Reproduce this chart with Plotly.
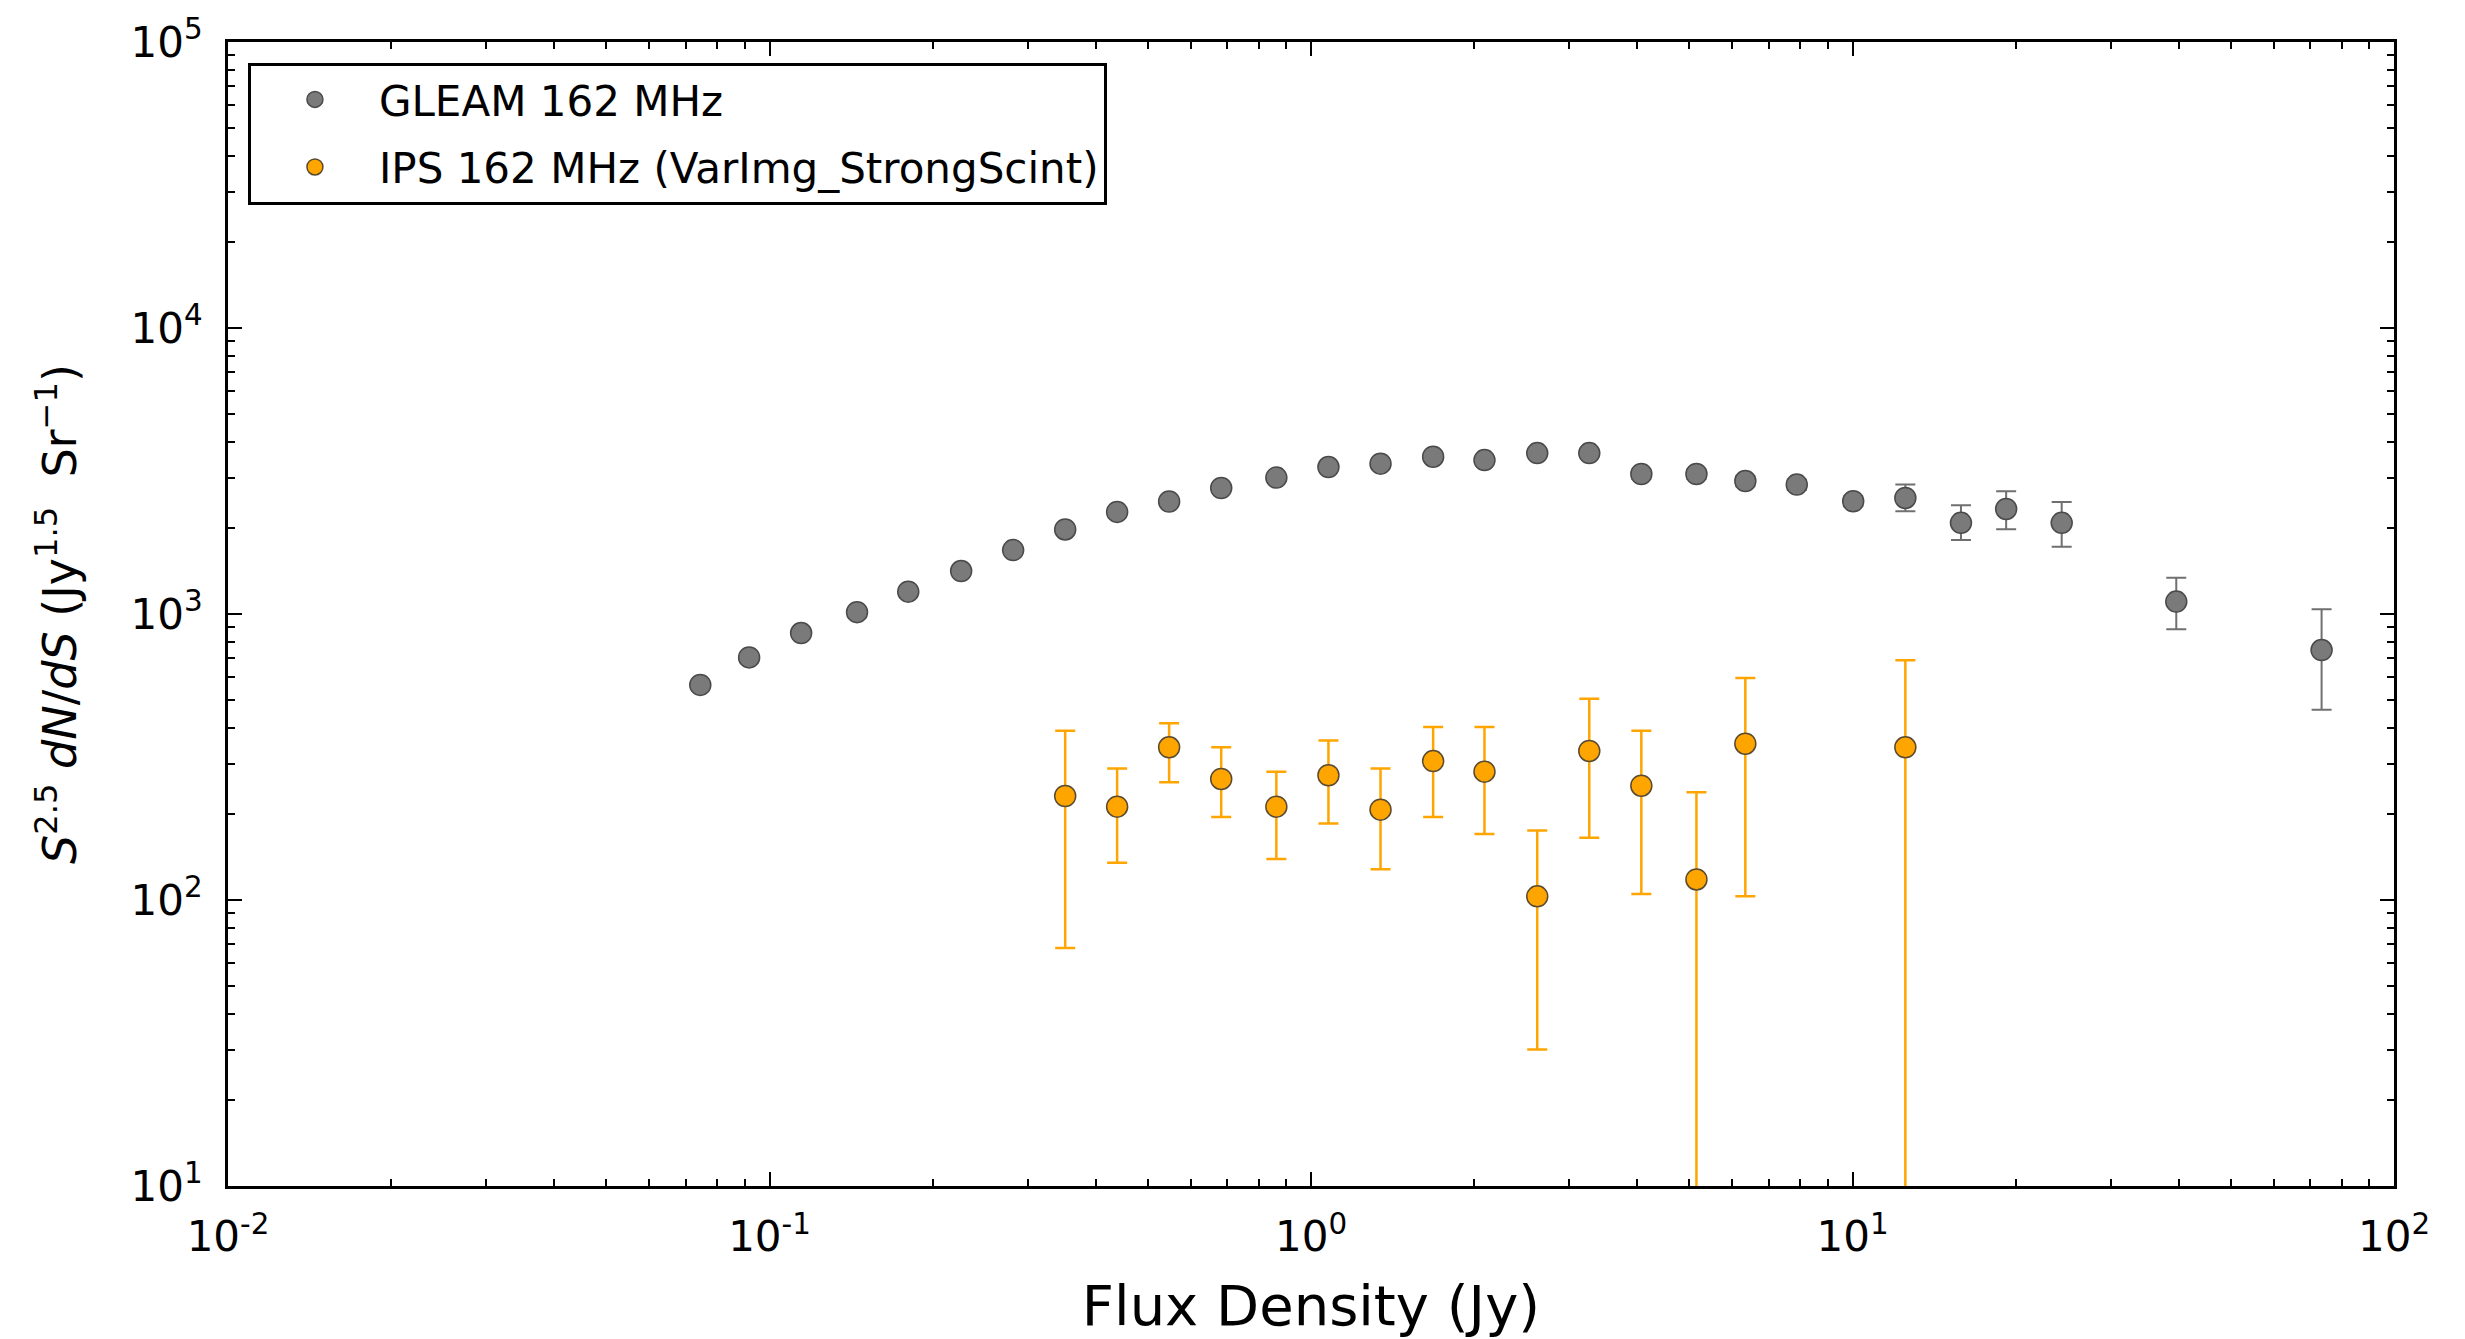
import plotly.graph_objects as go

# GLEAM 162 MHz differential source counts (Euclidean normalised)
flux = [0.0745, 0.0917, 0.1144, 0.1451, 0.1804, 0.2259, 0.2818, 0.3516, 0.4385, 0.547,
        0.6826, 0.863, 1.077, 1.344, 1.681, 2.091, 2.617, 3.265, 4.074, 5.15,
        6.34, 7.89, 10.03, 12.52, 15.86, 19.22, 24.34, 39.62, 73.5]
gleam = [565, 705, 858, 1015, 1197, 1413, 1673, 1975, 2275, 2474,
         2758, 2999, 3265, 3355, 3548, 3452, 3653, 3653, 3087, 3087,
         2917, 2834, 2479, 2545, 2083, 2330, 2083, 1105, 748]
gleam_err_plus = [10, 12, 15, 18, 21, 25, 30, 36, 42, 48,
                  55, 62, 70, 76, 84, 90, 100, 110, 115, 120,
                  120, 120, 100, 289, 318, 356, 382, 234, 291]
gleam_err_minus = [10, 12, 15, 18, 21, 25, 30, 36, 42, 48,
                   55, 62, 70, 76, 84, 90, 100, 110, 115, 120,
                   120, 120, 100, 260, 270, 350, 365, 220, 285]

# IPS 162 MHz (VarImg_StrongScint)
ips_flux = [0.3516, 0.4385, 0.547, 0.6826, 0.863, 1.077, 1.344, 1.681, 2.091, 2.617,
            3.265, 4.074, 5.15, 6.34, 12.52]
ips = [231, 212, 342, 265, 212, 273, 207, 306, 281, 103, 332, 251, 118, 352, 342]
ips_upper = [391, 288, 415, 342, 281, 361, 288, 403, 403, 175, 505, 391, 238, 597, 689]
ips_lower = [68, 135, 258, 195, 139, 185, 128, 195, 170, 30, 165, 105, 0, 103, 0]

x_tickvals = [1e-2, 1e-1, 1e0, 1e1, 1e2]
x_ticktext = ["10<sup>-2</sup>", "10<sup>-1</sup>", "10<sup>0</sup>", "10<sup>1</sup>", "10<sup>2</sup>"]
y_tickvals = [1e1, 1e2, 1e3, 1e4, 1e5]
y_ticktext = ["10<sup>1</sup>", "10<sup>2</sup>", "10<sup>3</sup>", "10<sup>4</sup>", "10<sup>5</sup>"]

x_minor = [m * 10.0 ** e for e in range(-2, 2) for m in range(2, 10)]
y_minor = [m * 10.0 ** e for e in range(1, 5) for m in range(2, 10)]

ips_plus = [u - v for u, v in zip(ips_upper, ips)]
ips_minus = [v - l for v, l in zip(ips, ips_lower)]

FONT = "DejaVu Sans"

fig = go.Figure()
fig.add_trace(go.Scatter(
    x=flux, y=gleam, mode="markers", name="GLEAM 162 MHz", legendgroup="g1",
    marker=dict(size=21, color="#7a7a7a", line=dict(color="#4a4a4a", width=1.5)),
    error_y=dict(type="data", array=gleam_err_plus, arrayminus=gleam_err_minus,
                 color="#707070", thickness=2, width=10),
))
fig.add_trace(go.Scatter(
    x=ips_flux, y=ips, mode="markers", name="IPS 162 MHz (VarImg_StrongScint)", legendgroup="g2",
    marker=dict(size=21, color="#FFA500", line=dict(color="#5a4a30", width=1.5)),
    error_y=dict(type="data", array=ips_plus, arrayminus=ips_minus,
                 color="#FFA500", thickness=2.5, width=10),
))

axis_common = dict(
    showline=True, linecolor="black", linewidth=3, mirror="allticks",
    ticks="inside", ticklen=14, tickwidth=2, tickcolor="black",
    showgrid=False, zeroline=False,
    tickfont=dict(family=FONT, size=42, color="black"),
)

fig.update_xaxes(
    type="log", range=[-2, 2], tickmode="array", tickvals=x_tickvals, ticktext=x_ticktext,
    minor=dict(tickmode="array", tickvals=x_minor, ticks="inside", ticklen=7,
               tickwidth=1.5, tickcolor="black", showgrid=False),
    title=dict(text="Flux Density (Jy)", font=dict(family=FONT, size=56, color="black"), standoff=26),
    ticklabelstandoff=12,
    **axis_common,
)
fig.update_yaxes(
    type="log", range=[1, 5], tickmode="array", tickvals=y_tickvals, ticktext=y_ticktext,
    minor=dict(tickmode="array", tickvals=y_minor, ticks="inside", ticklen=7,
               tickwidth=1.5, tickcolor="black", showgrid=False),
    title=dict(text="<i>S</i><sup>2.5</sup> <i>dN</i>/<i>dS</i> (Jy<sup>1.5</sup>  Sr<sup>−1</sup>)",
               font=dict(family=FONT, size=46, color="black"), standoff=40),
    ticklabelstandoff=14,
    **axis_common,
)

fig.update_layout(
    width=2465, height=1339,
    margin=dict(l=228, r=71, t=39, b=152),
    paper_bgcolor="white", plot_bgcolor="white",
    font=dict(family=FONT, color="black"),
    showlegend=True,
    legend=dict(
        x=0.0092, y=0.982, xanchor="left", yanchor="top",
        bgcolor="white", bordercolor="black", borderwidth=3,
        font=dict(family=FONT, size=42, color="black"),
        itemwidth=118, traceorder="grouped", tracegroupgap=10,
    ),
)

fig.write_html("out.html")
